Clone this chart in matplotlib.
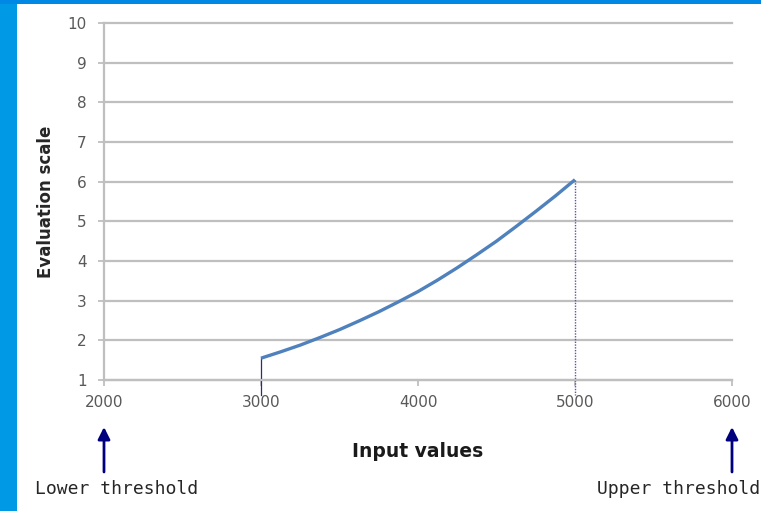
import matplotlib
matplotlib.use("Agg")
import matplotlib.pyplot as plt
from matplotlib.patches import Rectangle

# Data
x_values = [3000, 3125, 3250, 3375, 3500, 3625, 3750, 3875, 4000,
            4125, 4250, 4375, 4500, 4625, 4750, 4875, 5000]
y_values = [1.55, 1.71, 1.88, 2.07, 2.27, 2.49, 2.72, 2.97, 3.23,
            3.52, 3.83, 4.16, 4.50, 4.87, 5.25, 5.64, 6.05]
x_ticks = [2000, 3000, 4000, 5000, 6000]
y_ticks = [1, 2, 3, 4, 5, 6, 7, 8, 9, 10]
lower_threshold = 2000
upper_threshold = 6000

W, H = 761, 511
fig = plt.figure(figsize=(W / 100, H / 100), dpi=100)
fig.patch.set_facecolor("white")

# blue frame
fig.add_artist(Rectangle((0, 0), 16.5 / W, 1, transform=fig.transFigure,
                         facecolor="#0099E6", edgecolor="none", zorder=0))
fig.add_artist(Rectangle((0, 1 - 4 / H), 1, 4 / H, transform=fig.transFigure,
                         facecolor="#0088E4", edgecolor="none", zorder=0))

ax = fig.add_axes([104 / W, 1 - 380 / H, (732 - 104) / W, (380 - 23) / H])
ax.set_xlim(2000, 6000)
ax.set_ylim(1, 10)

grid_c = "#BFBFBF"
ax.set_yticks(y_ticks)
ax.set_xticks(x_ticks)
ax.yaxis.grid(True, color=grid_c, linewidth=1.6)
for gl in ax.get_ygridlines():
    gl.set_clip_on(False)
ax.set_axisbelow(True)
for s in ["top", "right"]:
    ax.spines[s].set_visible(False)
for s in ["left", "bottom"]:
    ax.spines[s].set_color(grid_c)
    ax.spines[s].set_linewidth(1.6)
ax.tick_params(axis="both", colors=grid_c, length=4.5, width=1.3,
               labelcolor="#595959", labelsize=11)
ax.tick_params(axis="x", pad=6)
ax.tick_params(axis="y", pad=8)

ax.plot(x_values, y_values, color="#4F81BD", linewidth=2.4,
        solid_capstyle="butt", solid_joinstyle="round", zorder=3)

# drop lines from curve ends to below axis
ax.plot([x_values[0], x_values[0]], [y_values[0], 0.62], color="#2B2B80",
        linewidth=0.9, clip_on=False, zorder=2)
ax.plot([x_values[-1], x_values[-1]], [y_values[-1], 0.62], color="#5555B0",
        linewidth=1.0, linestyle=(0, (1, 1)), clip_on=False, zorder=2)

ax.set_ylabel("Evaluation scale", fontsize=12, fontweight="bold",
              color="#262626", labelpad=9)
ax.set_xlabel("Input values", fontsize=13.5, fontweight="bold",
              color="#1A1A1A", labelpad=23)

# threshold arrows
for xv in (lower_threshold, upper_threshold):
    ax.annotate("", xy=(xv, H - 427), xycoords=("data", "figure pixels"),
                xytext=(xv, H - 472), textcoords=("data", "figure pixels"),
                arrowprops=dict(arrowstyle="-|>", color="#00007F", lw=2,
                                mutation_scale=18, shrinkA=0, shrinkB=0),
                annotation_clip=False)

fig.text(35 / W, 1 - 489 / H, "Lower threshold", family="DejaVu Sans Mono",
         fontsize=13, color="#262626", ha="left", va="center")
fig.text(760 / W, 1 - 489 / H, "Upper threshold", family="DejaVu Sans Mono",
         fontsize=13, color="#262626", ha="right", va="center")

fig.savefig("out.png", dpi=100)
